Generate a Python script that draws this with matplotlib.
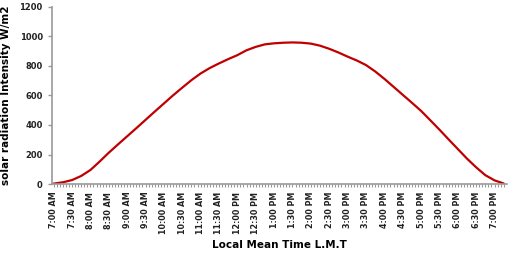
import matplotlib
matplotlib.use('Agg')
import matplotlib.pyplot as plt
import numpy as np

# minutes after 7:00 AM, one reading every 15 minutes
minutes = np.arange(0, 736, 15)
radiation = [3, 12, 27, 55, 95, 152, 212, 268, 323, 378,
             434, 490, 545, 600, 652, 703, 748, 785, 816, 845,
             872, 905, 928, 945, 952, 956, 958, 956, 950, 936,
             915, 890, 862, 836, 805, 762, 712, 658, 604, 550,
             495, 432, 368, 302, 237, 172, 113, 60, 25, 4]

tick_labels = ['7:00 AM', '7:30 AM', '8:00 AM', '8:30 AM', '9:00 AM', '9:30 AM',
               '10:00 AM', '10:30 AM', '11:00 AM', '11:30 AM', '12:00 PM', '12:30 PM',
               '1:00 PM', '1:30 PM', '2:00 PM', '2:30 PM', '3:00 PM', '3:30 PM',
               '4:00 PM', '4:30 PM', '5:00 PM', '5:30 PM', '6:00 PM', '6:30 PM', '7:00 PM']

plt.rcParams['font.family'] = 'DejaVu Sans'
plt.rcParams['font.weight'] = 'bold'

fig = plt.figure(figsize=(5.14, 2.66), dpi=100)
ax = fig.add_axes([0.102, 0.308, 0.884, 0.667])

ax.plot(minutes, radiation, color='#C00000', linewidth=1.6, solid_capstyle='round')

ax.set_xlim(-2, 740)
ax.set_ylim(0, 1200)
ax.set_yticks(np.arange(0, 1201, 200))
ax.set_xticks(np.arange(0, 721, 30))
ax.set_xticks(np.arange(0, 740, 5), minor=True)
ax.set_xticklabels(tick_labels, rotation=90, fontsize=5.8, fontweight='bold', color='#222222')
ax.tick_params(axis='y', labelsize=6, colors='#999999', labelcolor='#222222', length=3, width=1, pad=4)
ax.tick_params(axis='x', which='both', colors='#999999', labelcolor='#222222', length=2.5, width=0.8, pad=3)

for side in ['top', 'right']:
    ax.spines[side].set_visible(False)
for side in ['left', 'bottom']:
    ax.spines[side].set_color('#999999')
    ax.spines[side].set_linewidth(1.2)

ax.set_xlabel('Local Mean Time L.M.T', fontsize=7.5, fontweight='bold', labelpad=4)
ax.set_ylabel('solar radiation Intensity W/m2', fontsize=7.5, fontweight='bold', labelpad=6)

fig.savefig('out.png', dpi=100)
